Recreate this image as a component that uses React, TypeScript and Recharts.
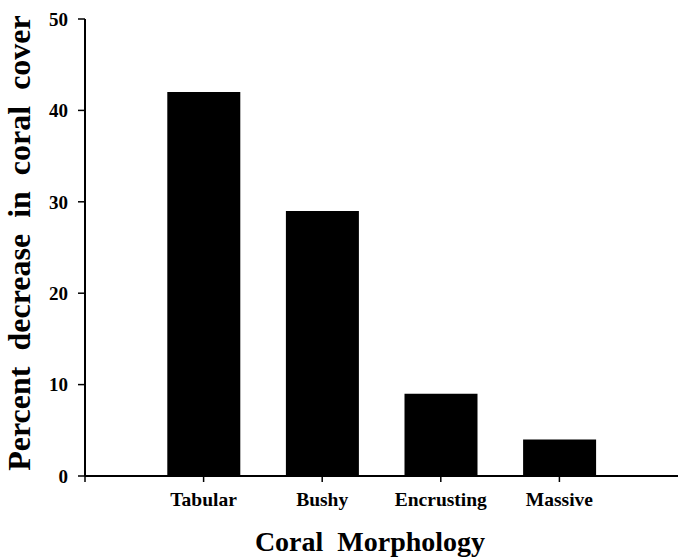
import React from "react";
import { BarChart, Bar, XAxis, YAxis } from "recharts";

// category names and their slot on the x axis
const categories = ["Tabular", "Bushy", "Encrusting", "Massive"];
const positions = [1, 2, 3, 4];
// percent decrease in coral cover
const decrease = [42, 29, 9, 4];
const yTicks = [0, 10, 20, 30, 40, 50];
const xTicks = [0, 1, 2, 3, 4];

const data = categories.map((name, i) => ({ name, pos: positions[i], value: decrease[i] }));

const FONT = "'Liberation Serif', 'Times New Roman', serif";

export default function App() {
	return (
		<div style={{ position: "absolute", left: 0, top: 0, width: 678, height: 558, background: "#fff" }}>
			<BarChart
				width={678}
				height={558}
				data={data}
				margin={{ top: 19, right: 0, left: 0, bottom: 0 }}
			>
				<XAxis
					type="number"
					dataKey="pos"
					domain={[0, 5]}
					ticks={xTicks}
					allowDecimals={false}
					height={82}
					tickSize={6}
					tickMargin={10}
					axisLine={{ stroke: "#000", strokeWidth: 2 }}
					tickLine={{ stroke: "#000", strokeWidth: 1.5 }}
					tick={{ fill: "#000", fontSize: 19.5, fontWeight: "bold", fontFamily: FONT }}
					tickFormatter={(v: number) => (v >= 1 && v <= 4 ? categories[v - 1] : "")}
				/>
				<YAxis
					domain={[0, 50]}
					ticks={yTicks}
					width={85}
					tickSize={7}
					tickMargin={10}
					axisLine={{ stroke: "#000", strokeWidth: 2 }}
					tickLine={{ stroke: "#000", strokeWidth: 1.5 }}
					tick={{ fill: "#000", fontSize: 19, fontWeight: "bold", fontFamily: FONT }}
				/>
				<Bar dataKey="value" fill="#000" barSize={73} isAnimationActive={false} />
				<text
					x={370}
					y={551}
					textAnchor="middle"
					style={{ fontFamily: FONT, fontWeight: "bold", fontSize: 28, whiteSpace: "pre" }}
					fill="#000"
				>
					Coral  Morphology
				</text>
				<text
					x={0}
					y={0}
					transform="translate(30, 243) rotate(-90)"
					textAnchor="middle"
					style={{ fontFamily: FONT, fontWeight: "bold", fontSize: 32, whiteSpace: "pre" }}
					fill="#000"
				>
					Percent  decrease  in  coral  cover
				</text>
			</BarChart>
		</div>
	);
}
